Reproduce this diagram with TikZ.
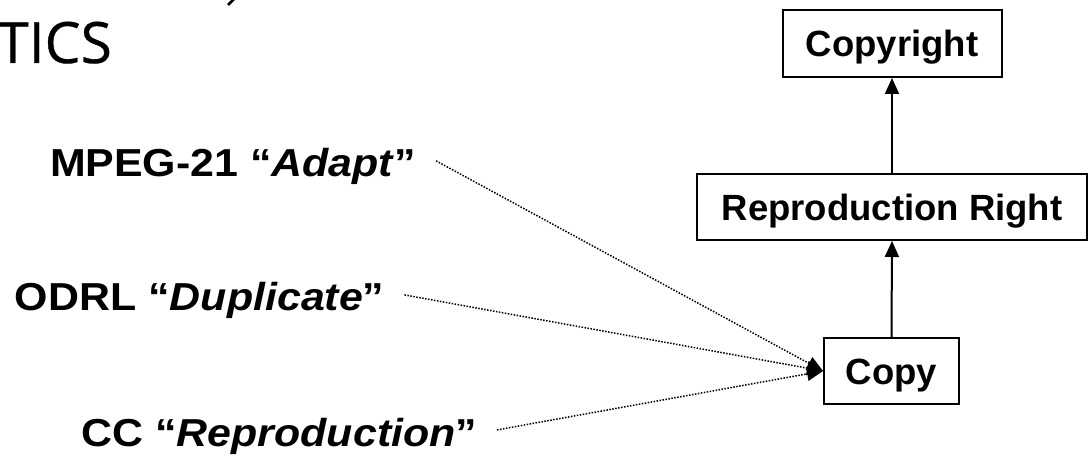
\documentclass[tikz,border=0pt]{standalone}
\usepackage{fontspec}
\usepackage{graphicx}
\setmainfont{Liberation Sans}
\newfontfamily\titlefont[FakeBold=0.6]{Open Sans}
\usetikzlibrary{arrows.meta}
\begin{document}
\begin{tikzpicture}[x=1pt,y=-1pt,
  box/.style={draw, line width=2pt, inner sep=0pt,
    font=\bfseries\fontsize{36.5}{44}\selectfont,
    text height=33.1pt, text depth=7pt},
  source/.style={inner sep=0pt, outer xsep=20pt, anchor=base west,
    font=\bfseries\fontsize{39}{46}\selectfont,
    text height=34.2pt, text depth=2pt},
  solidarrow/.style={line width=2pt, -{Triangle[length=16pt,width=14pt]}},
  dotarrow/.style={line width=1.5pt, dash pattern=on 1.5pt off 1.5pt,
    -{Triangle[length=16pt,width=14pt]}}]
\useasboundingbox (0,0) rectangle (1088,457);

% heading, partly outside the page
\node[inner sep=0pt, anchor=base west, font=\titlefont\fontsize{57}{60}\selectfont] (title) at (-3,63) {TICS};
\draw[line width=2.5pt] (228,5) -- (236,-3);

% hierarchy of rights
\node[box, minimum width=219pt, minimum height=67pt] (copyright) at (892,43.5) {Copyright};
\node[box, minimum width=390pt, minimum height=66pt] (reprright) at (892,207) {Reproduction Right};
\node[box, minimum width=135pt, minimum height=66pt] (copy) at (891.5,371) {Copy};

\draw[solidarrow] (copy.north) -- (reprright.south);
\draw[solidarrow] (reprright.north) -- (copyright.south);

% vocabulary terms mapped to Copy
\node[source] (mpeg) at (30,177) {\scalebox{1.1}[1]{MPEG-21 “\textit{Adapt}”}};
\node[source] (odrl) at (-5,311) {\scalebox{1.1}[1]{ODRL “\textit{Duplicate}”}};
\node[source] (cc) at (61.5,446) {\scalebox{1.1}[1]{CC “\textit{Reproduction}”}};

\draw[dotarrow] (mpeg.east) -- (copy.west);
\draw[dotarrow] (odrl.east) -- (copy.west);
\draw[dotarrow] (cc.east) -- (copy.west);
\end{tikzpicture}
\end{document}
